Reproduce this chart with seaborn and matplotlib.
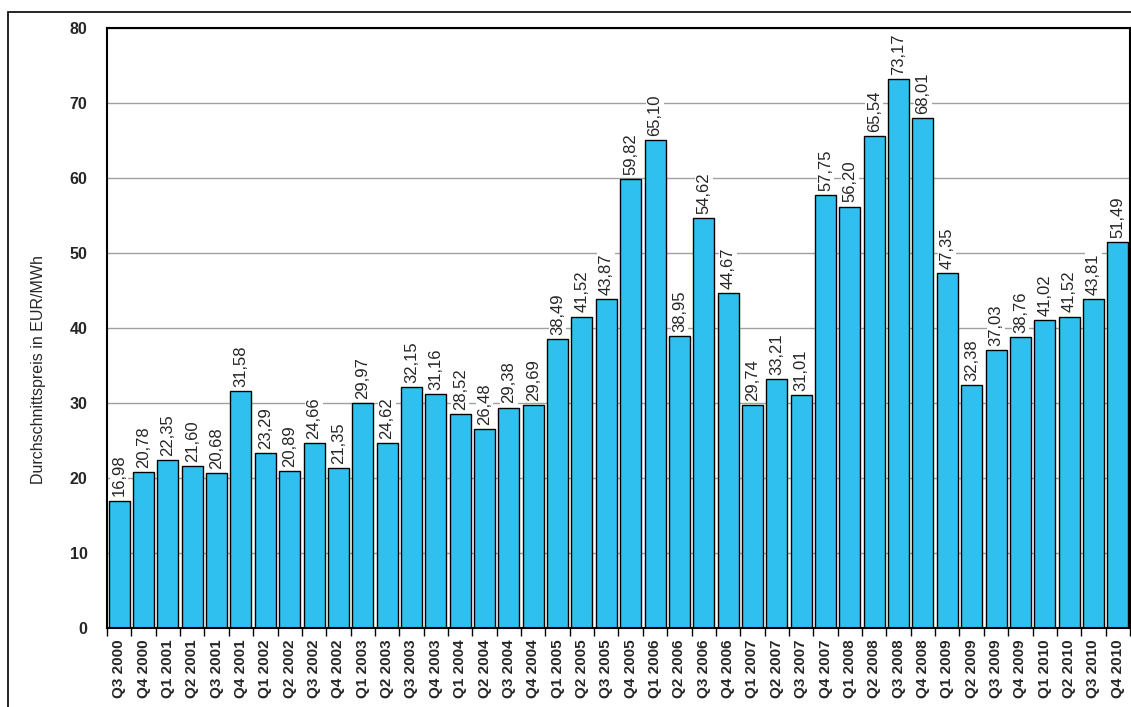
import pandas as pd
import matplotlib
matplotlib.use("Agg")
import matplotlib.pyplot as plt
import seaborn as sns
from matplotlib.patches import Rectangle

# Quartale und Durchschnittspreise (EUR/MWh)
quartale = ['Q3 2000', 'Q4 2000',
            'Q1 2001', 'Q2 2001', 'Q3 2001', 'Q4 2001',
            'Q1 2002', 'Q2 2002', 'Q3 2002', 'Q4 2002',
            'Q1 2003', 'Q2 2003', 'Q3 2003', 'Q4 2003',
            'Q1 2004', 'Q2 2004', 'Q3 2004', 'Q4 2004',
            'Q1 2005', 'Q2 2005', 'Q3 2005', 'Q4 2005',
            'Q1 2006', 'Q2 2006', 'Q3 2006', 'Q4 2006',
            'Q1 2007', 'Q2 2007', 'Q3 2007', 'Q4 2007',
            'Q1 2008', 'Q2 2008', 'Q3 2008', 'Q4 2008',
            'Q1 2009', 'Q2 2009', 'Q3 2009', 'Q4 2009',
            'Q1 2010', 'Q2 2010', 'Q3 2010', 'Q4 2010']
preise = [16.98, 20.78,
          22.35, 21.60, 20.68, 31.58,
          23.29, 20.89, 24.66, 21.35,
          29.97, 24.62, 32.15, 31.16,
          28.52, 26.48, 29.38, 29.69,
          38.49, 41.52, 43.87, 59.82,
          65.10, 38.95, 54.62, 44.67,
          29.74, 33.21, 31.01, 57.75,
          56.20, 65.54, 73.17, 68.01,
          47.35, 32.38, 37.03, 38.76,
          41.02, 41.52, 43.81, 51.49]
y_ticks = [0, 10, 20, 30, 40, 50, 60, 70, 80]

df = pd.DataFrame({'quartal': quartale, 'preis': preise})

sns.set_style("white")
plt.rcParams['font.family'] = ['Liberation Sans', 'DejaVu Sans']

fig = plt.figure(figsize=(11.31, 7.07), dpi=100)
ax = fig.add_axes([107 / 1131, 1 - 628 / 707, 1023 / 1131, 600 / 707])

sns.barplot(data=df, x='quartal', y='preis', color='#30C0EF', saturation=1,
            edgecolor='black', linewidth=1.0, width=0.86, ax=ax, zorder=2)

# Werte ueber den Balken (mit Komma)
labels = [f"{v:.2f}".replace('.', ',') for v in preise]
ax.bar_label(ax.containers[0], labels=labels, rotation=90, padding=3,
             fontsize=12, zorder=5,
             bbox=dict(facecolor='white', edgecolor='none', pad=1.0))

ax.set_ylim(0, 80)
ax.set_xlim(-0.5, len(quartale) - 0.5)
ax.set_yticks(y_ticks)
ax.set_yticklabels([str(t) for t in y_ticks], fontsize=11.5, fontweight='bold')
ax.tick_params(axis='y', length=0, pad=14)

ax.set_xticks(range(len(quartale)))
ax.set_xticklabels(quartale, rotation=90, fontsize=11, fontweight='bold')
ax.set_xticks([i + 0.5 for i in range(-1, len(quartale))], minor=True)
ax.tick_params(axis='x', which='major', length=0, pad=8)
ax.tick_params(axis='x', which='minor', length=6, width=1, color='black',
               bottom=True)

ax.yaxis.grid(True, color='#a0a0a0', linewidth=1.0, zorder=0)
ax.set_axisbelow(True)
for s in ax.spines.values():
    s.set_color('black')
    s.set_linewidth(1.5)
    s.set_visible(True)

ax.set_xlabel('')
ax.set_ylabel('Durchschnittspreis in EUR/MWh', fontsize=11.5, labelpad=14)
ax.yaxis.set_label_coords(-0.06, 0.43)

# aeusserer Rahmen
fig.add_artist(Rectangle((8 / 1131, -0.1), 2, 1 - 12 / 707 + 0.1,
                         transform=fig.transFigure, fill=False,
                         edgecolor='black', linewidth=1.2))

fig.savefig('out.png', dpi=100)
